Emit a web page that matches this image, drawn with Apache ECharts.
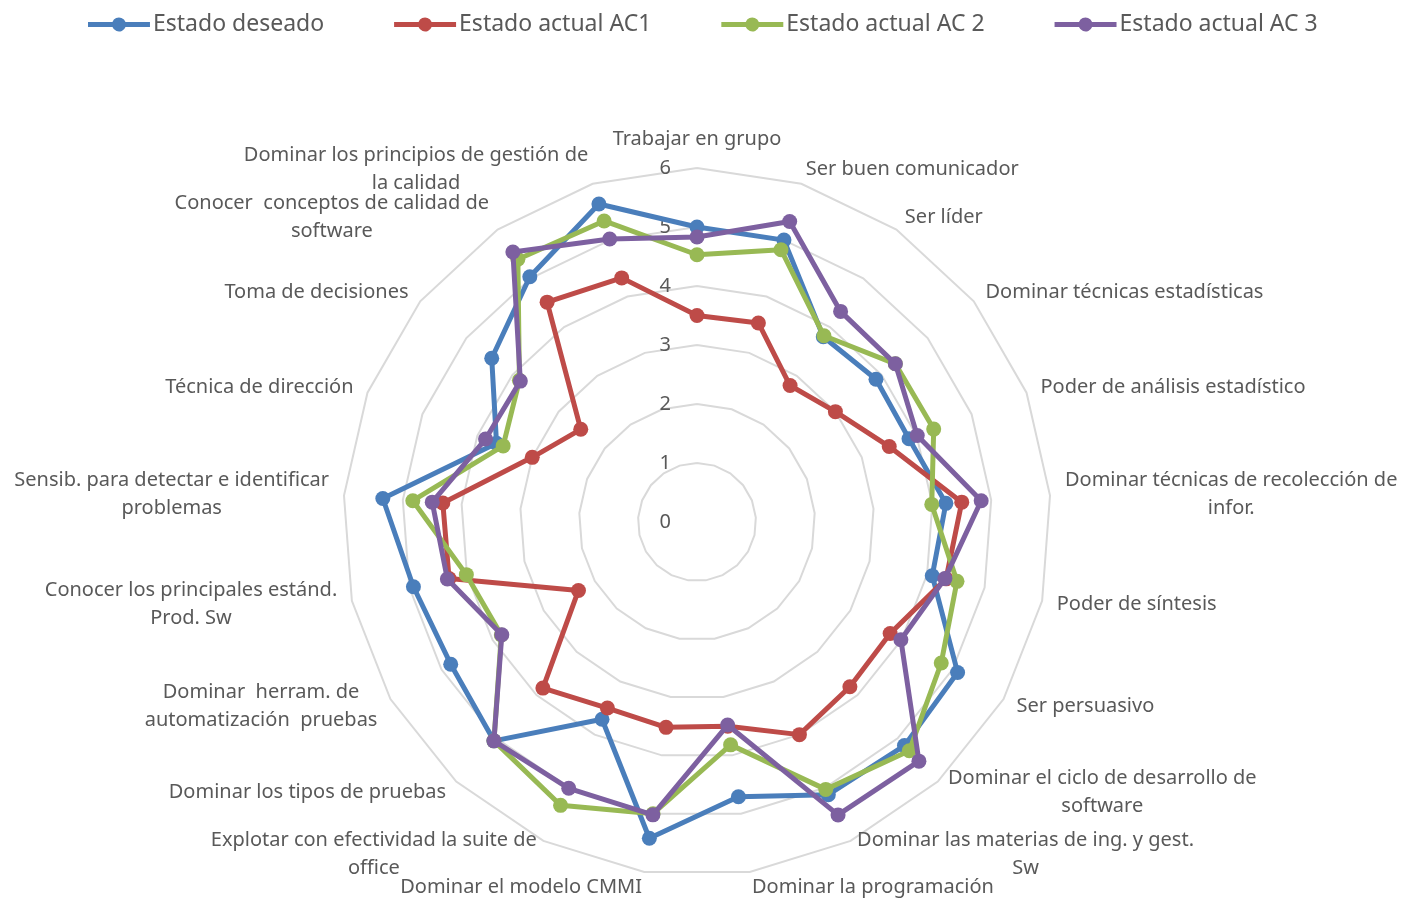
<!DOCTYPE html>
<html>
<head>
<meta charset="utf-8">
<title>Competencias: estado deseado vs. estado actual</title>
<script src="https://cdn.jsdelivr.net/npm/echarts@6/dist/echarts.min.js"></script>
<style>
  html, body { margin: 0; padding: 0; background: #ffffff; }
  #chart { width: 1415px; height: 899px; }
</style>
</head>
<body>
<div id="chart"></div>
<script>
// Competencies, clockwise from the top
const competencias = [
  'Trabajar en grupo',
  'Ser buen comunicador',
  'Ser líder',
  'Dominar técnicas estadísticas',
  'Poder de análisis estadístico',
  'Dominar técnicas de recolección de\ninfor.',
  'Poder de síntesis',
  'Ser persuasivo',
  'Dominar el ciclo de desarrollo de\nsoftware',
  'Dominar las materias de ing. y gest.\nSw',
  'Dominar la programación',
  'Dominar el modelo CMMI',
  'Explotar con efectividad la suite de\noffice',
  'Dominar los tipos de pruebas',
  'Dominar  herram. de\nautomatización  pruebas',
  'Conocer los principales estánd.\nProd. Sw',
  'Sensib. para detectar e identificar\nproblemas',
  'Técnica de dirección',
  'Toma de decisiones',
  'Conocer  conceptos de calidad de\nsoftware',
  'Dominar los principios de gestión de\nla calidad'
];

const estadoDeseado = [5.0, 5.0, 3.8, 3.88, 3.86, 4.23, 4.09, 5.1, 5.17, 5.13, 4.71, 5.42, 3.71, 5.06, 4.82, 4.93, 5.34, 3.65, 4.45, 5.03, 5.64];
const estadoAC1     = [3.5, 3.53, 2.8, 3.0, 3.5, 4.5, 4.33, 3.78, 3.81, 4.0, 3.5, 3.52, 3.5, 3.84, 2.32, 4.31, 4.32, 3.0, 2.52, 4.51, 4.33];
const estadoAC2     = [4.53, 4.83, 3.82, 4.3, 4.31, 3.99, 4.52, 4.78, 5.29, 5.03, 3.82, 5.0, 5.33, 5.06, 3.83, 4.01, 4.83, 3.53, 3.85, 5.39, 5.34];
const estadoAC3     = [4.83, 5.33, 4.32, 4.3, 4.01, 4.83, 4.31, 3.99, 5.53, 5.51, 3.48, 5.02, 5.01, 5.06, 3.82, 4.34, 4.5, 3.85, 3.83, 5.54, 5.02];

const serieNombres = ['Estado deseado', 'Estado actual AC1', 'Estado actual AC 2', 'Estado actual AC 3'];
const serieColores = ['#4a7ebb', '#be4b48', '#98b954', '#7d60a0'];

// Scale ticks shown on the vertical axis
const escala = [0, 1, 2, 3, 4, 5, 6];

const FONT = '"Noto Sans", "Open Sans", sans-serif';
const TEXT_COLOR = '#595959';

const cx = 697, cy = 522, R = 354;

// ECharts lays radar indicators out counter-clockwise; keep the first one
// at the top and reverse the rest so the competencies run clockwise.
const orden = [0].concat(competencias.map((_, i) => i).slice(1).reverse());
const reordenar = arr => orden.map(i => arr[i]);

// Legend glyph: a thick line with a round marker in the middle
const legendIcon = 'path://M0,4.5H24.46A7,7 0 0 1 37.54,4.5H62V9.5H37.54A7,7 0 0 1 24.46,9.5H0Z';

const chart = echarts.init(document.getElementById('chart'), null, { renderer: 'canvas' });

const valores = [estadoDeseado, estadoAC1, estadoAC2, estadoAC3];

chart.setOption({
  backgroundColor: '#ffffff',
  animation: false,
  textStyle: { fontFamily: FONT },
  legend: {
    top: 8,
    left: 83,
    itemGap: 70,
    itemWidth: 62,
    itemHeight: 14,
    icon: legendIcon,
    data: serieNombres,
    textStyle: { fontSize: 23, color: TEXT_COLOR, fontFamily: FONT, padding: [0, 0, 0, -2] }
  },
  // Thin grid on the vertical axis carries the 0..6 scale labels
  grid: { left: cx - 18, width: 1, top: cy - R, height: R },
  xAxis: { type: 'value', show: false, min: 0, max: 1 },
  yAxis: {
    type: 'value',
    min: escala[0],
    max: escala[escala.length - 1],
    interval: 1,
    axisLine: { show: false },
    axisTick: { show: false },
    splitLine: { show: false },
    axisLabel: { show: true, margin: 8, fontSize: 20, color: TEXT_COLOR, fontFamily: FONT }
  },
  radar: {
    center: [cx, cy],
    radius: R,
    startAngle: 90,
    shape: 'polygon',
    splitNumber: 6,
    axisNameGap: 15,
    indicator: reordenar(competencias).map(n => ({ name: n, min: 0, max: 6 })),
    axisName: {
      color: TEXT_COLOR,
      fontSize: 20,
      fontFamily: FONT,
      formatter: function (name) {
        return name.split('\n').map(l => '{c|' + l + '}').join('\n');
      },
      rich: {
        c: { align: 'center', fontSize: 20, color: TEXT_COLOR, fontFamily: FONT, lineHeight: 28 }
      }
    },
    axisLine: { show: false },
    axisTick: { show: false },
    axisLabel: { show: false },
    splitArea: { show: false },
    splitLine: { lineStyle: { color: '#d9d9d9', width: 2 } }
  },
  series: serieNombres.map((nombre, i) => ({
    name: nombre,
    type: 'radar',
    symbol: 'circle',
    symbolSize: 15,
    itemStyle: { color: serieColores[i] },
    lineStyle: { color: serieColores[i], width: 5 },
    z: 2 + i,
    data: [{ name: nombre, value: reordenar(valores[i]) }]
  }))
});
</script>
</body>
</html>
